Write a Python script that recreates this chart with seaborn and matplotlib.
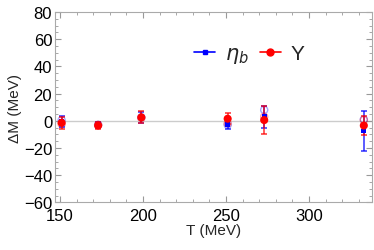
import numpy as np
import pandas as pd
import matplotlib
matplotlib.use("Agg")
import matplotlib.pyplot as plt
import seaborn as sns
from matplotlib.lines import Line2D
from matplotlib.ticker import MultipleLocator

# temperatures (MeV)
T = [151, 173, 199, 251, 273, 333]

# mass shifts (MeV), main estimates
eta_b = [-0.5, -3.0, 2.5, -2.5, 3.0, -7.5]
eta_b_err = [4.0, 2.0, 4.0, 3.5, 8.0, 15.0]
upsilon = [-1.5, -3.5, 2.5, 1.5, 0.5, -3.5]
upsilon_err = [4.5, 2.5, 4.5, 4.0, 10.5, 7.0]

# second (open) estimates
eta_b_alt = [0.5, -3.0, 2.5, -3.0, 8.0, 1.0]
upsilon_alt = [-2.5, -3.0, 2.0, -2.0, 3.0, 0.5]

df = pd.DataFrame({
    "T": T * 2,
    "dM": eta_b + upsilon,
    "err": eta_b_err + upsilon_err,
    "state": ["eta_b"] * len(T) + ["Upsilon"] * len(T),
})

sns.set_style("ticks")
plt.rcParams["font.family"] = ["Liberation Sans", "DejaVu Sans"]

fig = plt.figure(figsize=(3.74, 2.51), dpi=100)
ax = fig.add_axes([0.147, 0.19, 0.848, 0.758])

ax.axhline(0, color="#cccccc", lw=1, zorder=0)

colors = {"eta_b": "blue", "Upsilon": "red"}

# open markers (second estimate)
ax.scatter(T, eta_b_alt, s=26, facecolors="none", edgecolors="blue", alpha=0.35, lw=1, zorder=2)
ax.scatter(T, upsilon_alt, s=26, facecolors="none", edgecolors="red", alpha=0.35, lw=1, zorder=2)

for state, marker, size in [("eta_b", "s", 12), ("Upsilon", "o", 34)]:
    sub = df[df["state"] == state]
    ax.errorbar(sub["T"], sub["dM"], yerr=sub["err"], fmt="none", ecolor=colors[state],
                elinewidth=1.2, capsize=2, capthick=1.2, alpha=0.75, zorder=3)
    sns.scatterplot(data=sub, x="T", y="dM", color=colors[state], marker=marker, s=size,
                    edgecolor="none", ax=ax, zorder=4, legend=False)

ax.set_xlim(147, 338)
ax.set_ylim(-60, 80)
ax.xaxis.set_major_locator(MultipleLocator(50))
ax.xaxis.set_minor_locator(MultipleLocator(10))
ax.yaxis.set_major_locator(MultipleLocator(20))
ax.yaxis.set_minor_locator(MultipleLocator(5))
ax.tick_params(which="both", direction="in", top=True, right=True, color="#999999",
               labelsize=12, labelcolor="black")
ax.tick_params(axis="x", pad=4)
ax.tick_params(axis="y", pad=2)
ax.tick_params(which="major", length=4, width=0.8)
ax.tick_params(which="minor", length=2, width=0.6)
for sp in ax.spines.values():
    sp.set_color("#aaaaaa")
    sp.set_linewidth(0.8)

ax.set_xlabel("T (MeV)", fontsize=11, labelpad=0)
ax.set_ylabel("ΔM (MeV)", fontsize=11, labelpad=1)

h1 = Line2D([], [], color="blue", marker="s", ms=3, lw=1.2)
h2 = Line2D([], [], color="red", marker="o", ms=5, lw=1.2)
ax.legend([h1, h2], [r"$\eta_b$", "Υ"], loc="upper left", bbox_to_anchor=(0.38, 0.93),
          ncol=2, frameon=False, fontsize=15, handlelength=1.0, handletextpad=0.5,
          columnspacing=0.5)

fig.savefig("out.png", dpi=100)
